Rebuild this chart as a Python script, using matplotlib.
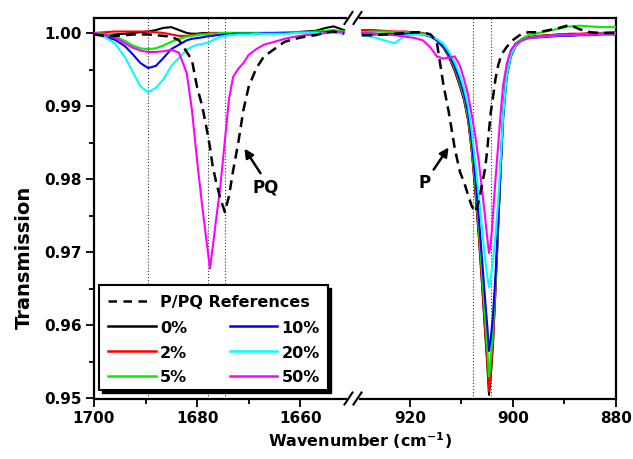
import matplotlib
matplotlib.use("Agg")
import matplotlib.pyplot as plt
from matplotlib.lines import Line2D
from matplotlib.patches import Rectangle
from matplotlib.ticker import FixedLocator, FormatStrFormatter

plt.rcParams['font.family'] = ['DejaVu Sans']
plt.rcParams['font.weight'] = 'bold'
plt.rcParams['mathtext.default'] = 'bf'

# ---------------- data ----------------
series_labels = ["0%", "2%", "5%", "10%", "20%", "50%"]
ref_label = "P/PQ References"

wn_left = [1700.0, 1698.0, 1696.0, 1694.0, 1692.5, 1691.0, 1689.5, 1688.0, 1686.5, 1685.0,
           1683.5, 1682.0, 1681.0, 1680.0, 1679.0, 1678.3, 1677.5, 1677.0, 1676.3, 1675.5,
           1674.6, 1673.8, 1673.0, 1672.0, 1671.0, 1670.0, 1668.5, 1667.0, 1665.0, 1663.0,
           1661.0, 1659.0, 1657.0, 1655.0, 1653.5, 1651.5]

ref_left = [0.9998, 0.9996, 0.9996, 0.9997, 0.9998, 0.9998, 0.9998, 0.9997, 0.9996, 0.9995,
            0.9990, 0.9974, 0.9963, 0.9926, 0.9900, 0.9875, 0.9844, 0.9819, 0.9796, 0.9774,
            0.9755, 0.9777, 0.9812, 0.9850, 0.9895, 0.9926, 0.9952, 0.9968, 0.9978, 0.9988,
            0.9992, 0.9995, 0.9997, 1.0001, 1.0002, 0.9999]

left_0 = [1.0000, 0.9997, 0.9998, 0.9999, 1.0000, 1.0001, 1.0002, 1.0004, 1.0007, 1.0008,
          1.0004, 1.0000, 0.9999, 0.9999, 1.0000, 1.0000, 1.0000, 1.0000, 1.0000, 1.0000,
          1.0000, 1.0000, 1.0000, 1.0000, 1.0000, 1.0000, 1.0000, 1.0000, 1.0000, 1.0000,
          1.0001, 1.0002, 1.0003, 1.0007, 1.0009, 1.0004]
left_2 = [1.0000, 1.0001, 1.0002, 1.0002, 1.0002, 1.0002, 1.0002, 1.0001, 1.0000, 0.9998,
          0.9996, 0.9996, 0.9997, 0.9998, 0.9999, 0.9999, 1.0000, 1.0000, 1.0000, 1.0000,
          1.0000, 1.0000, 1.0000, 1.0000, 1.0000, 1.0000, 1.0000, 1.0000, 1.0000, 1.0000,
          1.0000, 1.0001, 1.0001, 1.0002, 1.0002, 1.0001]
left_5 = [1.0000, 0.9999, 0.9996, 0.9989, 0.9983, 0.9979, 0.9978, 0.9979, 0.9983, 0.9988,
          0.9992, 0.9995, 0.9996, 0.9997, 0.9998, 0.9998, 0.9999, 0.9999, 0.9999, 1.0000,
          1.0000, 1.0000, 1.0000, 1.0000, 1.0000, 1.0000, 1.0000, 1.0000, 1.0000, 1.0001,
          1.0001, 1.0001, 1.0002, 1.0003, 1.0004, 1.0002]
left_10 = [1.0000, 0.9995, 0.9991, 0.9982, 0.9971, 0.9959, 0.9952, 0.9955, 0.9966, 0.9978,
           0.9984, 0.9990, 0.9992, 0.9993, 0.9994, 0.9995, 0.9996, 0.9996, 0.9997, 0.9997,
           0.9998, 0.9998, 0.9999, 0.9999, 0.9999, 0.9999, 0.9999, 1.0000, 1.0000, 1.0000,
           1.0000, 1.0000, 1.0000, 1.0001, 1.0001, 1.0000]
left_20 = [1.0000, 0.9995, 0.9986, 0.9967, 0.9947, 0.9927, 0.9919, 0.9925, 0.9937, 0.9955,
           0.9966, 0.9977, 0.9981, 0.9984, 0.9985, 0.9986, 0.9988, 0.9990, 0.9992, 0.9995,
           0.9996, 0.9997, 0.9997, 0.9998, 0.9998, 0.9998, 0.9999, 0.9999, 0.9999, 0.9999,
           1.0000, 1.0000, 1.0000, 1.0000, 1.0000, 0.9999]
left_50 = [1.0000, 0.9998, 0.9994, 0.9986, 0.9980, 0.9976, 0.9974, 0.9974, 0.9975, 0.9977,
           0.9973, 0.9945, 0.9895, 0.9826, 0.9763, 0.9723, 0.9678, 0.9705, 0.9745, 0.9789,
           0.9853, 0.9910, 0.9940, 0.9951, 0.9959, 0.9970, 0.9978, 0.9984, 0.9988, 0.9992,
           0.9995, 0.9997, 0.9998, 1.0000, 1.0002, 1.0001]

wn_right = [929.3, 927.0, 925.0, 923.0, 921.0, 919.0, 917.5, 916.0, 914.8, 913.5,
            912.5, 911.3, 910.3, 909.5, 908.7, 908.0, 907.3, 906.6, 906.0, 905.4,
            905.0, 904.65, 904.3, 903.9, 903.4, 902.9, 902.4, 901.9, 901.2, 900.4,
            899.5, 898.3, 897.0, 895.0, 893.0, 891.0, 889.0, 887.0, 885.0, 883.0,
            881.0, 880.0]

ref_right = [0.9997, 0.9997, 0.9998, 0.9999, 1.0000, 1.0001, 1.0001, 0.9998, 0.9988, 0.9929,
             0.9893, 0.9842, 0.9810, 0.9796, 0.9778, 0.9763, 0.9755, 0.9771, 0.9793, 0.9815,
             0.9840, 0.9867, 0.9892, 0.9911, 0.9937, 0.9955, 0.9967, 0.9974, 0.9981, 0.9988,
             0.9993, 0.9999, 1.0001, 1.0001, 1.0004, 1.0007, 1.0011, 1.0005, 1.0001, 1.0000,
             1.0000, 1.0000]

right_0 = [0.9997, 0.9998, 0.9999, 1.0000, 1.0000, 1.0000, 1.0000, 0.9996, 0.9990, 0.9980,
           0.9968, 0.9948, 0.9927, 0.9908, 0.9880, 0.9838, 0.9782, 0.9718, 0.9655, 0.9590,
           0.9548, 0.9505, 0.9532, 0.9573, 0.9648, 0.9730, 0.9815, 0.9890, 0.9947, 0.9973,
           0.9985, 0.9990, 0.9994, 0.9996, 0.9997, 0.9998, 0.9998, 0.9998, 0.9999, 0.9999,
           1.0000, 1.0000]
right_2 = [1.0004, 1.0004, 1.0003, 1.0002, 1.0002, 1.0001, 1.0000, 0.9996, 0.9991, 0.9981,
           0.9969, 0.9950, 0.9929, 0.9910, 0.9882, 0.9841, 0.9786, 0.9722, 0.9659, 0.9594,
           0.9552, 0.9510, 0.9536, 0.9577, 0.9650, 0.9732, 0.9815, 0.9890, 0.9947, 0.9973,
           0.9985, 0.9990, 0.9994, 0.9996, 0.9997, 0.9998, 0.9999, 0.9999, 1.0000, 1.0000,
           1.0001, 1.0001]
right_5 = [1.0001, 1.0002, 1.0002, 1.0001, 1.0001, 1.0000, 0.9999, 0.9996, 0.9991, 0.9982,
           0.9970, 0.9952, 0.9932, 0.9913, 0.9886, 0.9846, 0.9793, 0.9732, 0.9671, 0.9610,
           0.9570, 0.9530, 0.9555, 0.9593, 0.9660, 0.9738, 0.9818, 0.9892, 0.9948, 0.9974,
           0.9986, 0.9992, 0.9997, 1.0000, 1.0003, 1.0006, 1.0009, 1.0010, 1.0009, 1.0008,
           1.0008, 1.0008]
right_10 = [0.9999, 0.9999, 0.9998, 0.9998, 0.9999, 0.9999, 0.9998, 0.9995, 0.9990, 0.9982,
            0.9971, 0.9954, 0.9935, 0.9917, 0.9891, 0.9853, 0.9802, 0.9745, 0.9690, 0.9635,
            0.9600, 0.9565, 0.9583, 0.9612, 0.9668, 0.9740, 0.9812, 0.9884, 0.9940, 0.9968,
            0.9982, 0.9990, 0.9993, 0.9994, 0.9995, 0.9996, 0.9996, 0.9997, 0.9997, 0.9998,
            0.9998, 0.9998]
right_20 = [0.9997, 0.9994, 0.9990, 0.9986, 0.9996, 0.9998, 0.9998, 0.9996, 0.9992, 0.9985,
            0.9975, 0.9960, 0.9942, 0.9924, 0.9900, 0.9866, 0.9822, 0.9775, 0.9732, 0.9690,
            0.9668, 0.9652, 0.9666, 0.9688, 0.9722, 0.9768, 0.9825, 0.9888, 0.9942, 0.9970,
            0.9983, 0.9990, 0.9993, 0.9995, 0.9996, 0.9997, 0.9997, 0.9998, 0.9998, 0.9999,
            0.9999, 0.9999]
right_50 = [1.0000, 0.9999, 0.9998, 0.9997, 0.9995, 0.9993, 0.9990, 0.9980, 0.9968, 0.9965,
            0.9966, 0.9968, 0.9955, 0.9937, 0.9915, 0.9888, 0.9858, 0.9822, 0.9785, 0.9747,
            0.9720, 0.9699, 0.9712, 0.9751, 0.9799, 0.9844, 0.9890, 0.9929, 0.9958, 0.9977,
            0.9985, 0.9990, 0.9993, 0.9995, 0.9996, 0.9997, 0.9997, 0.9998, 0.9998, 0.9999,
            0.9999, 0.9999]

left_series = [left_0, left_2, left_5, left_10, left_20, left_50]
right_series = [right_0, right_2, right_5, right_10, right_20, right_50]
colors = ["#000000", "#ff0000", "#00ee00", "#0000ff", "#00ffff", "#ff00ff"]

marks_left = [1689.5, 1677.8, 1674.5]
marks_right = [907.8, 904.3]

xticks_left = [1700, 1680, 1660]
xminor_left = [1690, 1670]
xticks_right = [920, 900, 880]
xminor_right = [910, 890]
yticks = [0.95, 0.96, 0.97, 0.98, 0.99, 1.00]
yminor = [0.955, 0.965, 0.975, 0.985, 0.995]

# ---------------- figure ----------------
W, H = 633, 459
fig = plt.figure(figsize=(W / 100, H / 100), dpi=100)
fig.patch.set_facecolor('white')


def fx(x):
    return x / W


def fy(y):
    return 1 - y / H


y_bot, y_top = 398.5, 18.0
axL = fig.add_axes([fx(94), fy(y_bot), (346 - 94) / W, (y_bot - y_top) / H])
axR = fig.add_axes([fx(360), fy(y_bot), (616 - 360) / W, (y_bot - y_top) / H])

axL.set_xlim(1700, 1651.1)
axR.set_xlim(929.7, 880)
for ax in (axL, axR):
    ax.set_ylim(0.95, 1.00205)
    for s in ax.spines.values():
        s.set_linewidth(1.6)
    ax.tick_params(which='both', direction='out', top=False, right=False,
                   width=1.3, labelsize=11, pad=3)
    ax.tick_params(which='major', length=6)
    ax.tick_params(which='minor', length=3.5)

axL.spines['right'].set_visible(False)
axR.spines['left'].set_visible(False)
axR.tick_params(which='both', left=False, labelleft=False)

axL.xaxis.set_major_locator(FixedLocator(xticks_left))
axL.xaxis.set_minor_locator(FixedLocator(xminor_left))
axR.xaxis.set_major_locator(FixedLocator(xticks_right))
axR.xaxis.set_minor_locator(FixedLocator(xminor_right))
axL.yaxis.set_major_locator(FixedLocator(yticks))
axL.yaxis.set_minor_locator(FixedLocator(yminor))
axR.yaxis.set_major_locator(FixedLocator(yticks))
axR.yaxis.set_minor_locator(FixedLocator(yminor))
axL.yaxis.set_major_formatter(FormatStrFormatter('%.2f'))
axL.xaxis.set_major_formatter(FormatStrFormatter('%d'))
axR.xaxis.set_major_formatter(FormatStrFormatter('%d'))
for lab in axL.get_xticklabels() + axL.get_yticklabels() + axR.get_xticklabels():
    lab.set_fontweight('bold')

# dotted guide lines
for m in marks_left:
    axL.axvline(m, color='#333333', lw=0.8, ls=(0, (1, 1.8)), zorder=1)
for m in marks_right:
    axR.axvline(m, color='#333333', lw=0.8, ls=(0, (1, 1.8)), zorder=1)

# sample curves
for i, (c, lab) in enumerate(zip(colors, series_labels)):
    axL.plot(wn_left, left_series[i], color=c, lw=1.5, zorder=2 + i, label=lab)
    axR.plot(wn_right, right_series[i], color=c, lw=1.5, zorder=2 + i)

# reference curves
dash = (0, (4.0, 2.4))
axL.plot(wn_left, ref_left, color='black', lw=1.8, ls=dash, zorder=10, label=ref_label)
axR.plot(wn_right, ref_right, color='black', lw=1.8, ls=dash, zorder=10)

# annotations
axL.annotate("", xy=(1671.1, 0.9845), xytext=(1667.4, 0.9805),
             arrowprops=dict(arrowstyle='-|>', color='black', lw=1.8, mutation_scale=13))
axL.text(1666.6, 0.9789, "PQ", fontsize=12, fontweight='bold', ha='center', va='center')
axR.annotate("", xy=(912.2, 0.98466), xytext=(915.7, 0.9810),
             arrowprops=dict(arrowstyle='-|>', color='black', lw=1.8, mutation_scale=13))
axR.text(917.1, 0.9795, "P", fontsize=12, fontweight='bold', ha='center', va='center')

# axis break marks
for yc in (y_top, y_bot):
    for xc in (348.5, 357.5):
        fig.add_artist(Line2D([fx(xc - 4), fx(xc + 4)], [fy(yc + 6), fy(yc - 6)],
                              color='black', lw=1.5, transform=fig.transFigure))

# axis labels
fig.text(fx(360), fy(441), r"Wavenumber (cm$^{-1}$)", fontsize=11.5, fontweight='bold',
         ha='center', va='center')
fig.text(fx(24), fy(257), "Transmission", fontsize=14, fontweight='bold',
         rotation=90, ha='center', va='center')

# legend (manual box with shadow)
bx0, by0, bx1, by1 = 99, 285, 328, 390
fig.add_artist(Rectangle((fx(bx0 + 3), fy(by1 + 3)), (bx1 - bx0) / W, (by1 - by0) / H,
                         transform=fig.transFigure, facecolor='black', edgecolor='black',
                         lw=1, zorder=20))
fig.add_artist(Rectangle((fx(bx0), fy(by1)), (bx1 - bx0) / W, (by1 - by0) / H,
                         transform=fig.transFigure, facecolor='white', edgecolor='black',
                         lw=1.5, zorder=21))
fig.add_artist(Line2D([fx(108), fx(153)], [fy(301), fy(301)], color='black', lw=1.8,
                      ls=(0, (3.4, 2.6)), transform=fig.transFigure, zorder=22))
fig.text(fx(160), fy(307), ref_label, fontsize=11.5, fontweight='bold',
         ha='left', va='baseline', zorder=22)
rows_line = [326, 350.5, 375.5]
rows_text = [333, 357.5, 382.5]
for i, (c, lab) in enumerate(zip(colors, series_labels)):
    col, row = divmod(i, 3)
    lx0, lx1, tx = (108, 156, 160) if col == 0 else (230, 277, 281.5)
    fig.add_artist(Line2D([fx(lx0), fx(lx1)], [fy(rows_line[row])] * 2, color=c, lw=1.8,
                          transform=fig.transFigure, zorder=22))
    fig.text(fx(tx), fy(rows_text[row]), lab, fontsize=11.5, fontweight='bold',
             ha='left', va='baseline', zorder=22)

fig.savefig("out.png", dpi=100, facecolor='white')
